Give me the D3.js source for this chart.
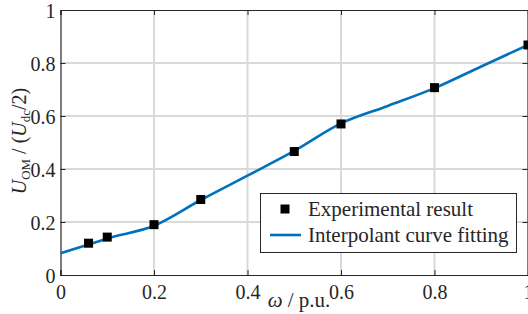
<!DOCTYPE html>
<html>
<head>
<meta charset="utf-8">
<script src="https://cdn.jsdelivr.net/npm/d3@7"></script>
<style>
  body { margin: 0; background: #fff; }
  svg text { font-family: "Liberation Serif", "Times New Roman", serif; fill: #262626; }
</style>
</head>
<body>
<div id="chart"></div>
<script>
// measured points
var expX = [0.06, 0.1, 0.2, 0.3, 0.5, 0.6, 0.8, 1.0];
var expY = [0.12, 0.143, 0.19, 0.285, 0.466, 0.57, 0.707, 0.868];

// interpolant curve
var fitX = [0, 0.06, 0.1, 0.2, 0.3, 0.4, 0.5, 0.6, 0.7, 0.8, 0.9, 1.0];
var fitY = [0.082, 0.115, 0.138, 0.186, 0.283, 0.375, 0.468, 0.572, 0.638, 0.705, 0.787, 0.868];

var xTicks = [0, 0.2, 0.4, 0.6, 0.8, 1];
var yTicks = [0, 0.2, 0.4, 0.6, 0.8, 1];

var width = 528, height = 314;
var plotL = 60.5, plotR = 528, plotT = 10, plotB = 275;
var fs = 20;

var svg = d3.select("#chart").append("svg")
  .attr("width", width)
  .attr("height", height);

var xScale = d3.scaleLinear().domain([0, 1]).range([plotL, plotR]);
var yScale = d3.scaleLinear().domain([0, 1]).range([plotB, plotT]);

// grid
svg.append("g").selectAll("line").data(xTicks.slice(1, -1)).enter()
  .append("line")
  .attr("x1", function(d) { return xScale(d); })
  .attr("x2", function(d) { return xScale(d); })
  .attr("y1", plotT).attr("y2", plotB)
  .attr("stroke", "#d9d9d9").attr("stroke-width", 2);
svg.append("g").selectAll("line").data(yTicks.slice(1, -1)).enter()
  .append("line")
  .attr("y1", function(d) { return yScale(d); })
  .attr("y2", function(d) { return yScale(d); })
  .attr("x1", plotL).attr("x2", plotR)
  .attr("stroke", "#d9d9d9").attr("stroke-width", 2);

var fmt = function(d) { return d === 0 || d === 1 ? d : d3.format(".1f")(d); };

// axes (inward ticks, box)
var xAxis = d3.axisBottom(xScale).tickValues(xTicks).tickSize(-5).tickPadding(9).tickFormat(fmt);
var xTop = d3.axisTop(xScale).tickValues(xTicks).tickSize(-5).tickFormat("");
var yAxis = d3.axisLeft(yScale).tickValues(yTicks).tickSize(-5).tickPadding(5).tickFormat(fmt);
var yRight = d3.axisRight(yScale).tickValues(yTicks).tickSize(-5).tickFormat("");

var gx = svg.append("g").attr("transform", "translate(0," + plotB + ")").call(xAxis);
var gxt = svg.append("g").attr("transform", "translate(0," + plotT + ")").call(xTop);
var gy = svg.append("g").attr("transform", "translate(" + plotL + ",0)").call(yAxis);
var gyr = svg.append("g").attr("transform", "translate(" + (plotR - 0.5) + ",0)").call(yRight);

[gx, gxt, gy, gyr].forEach(function(g) {
  g.selectAll("path").attr("stroke", "#262626").attr("stroke-width", 1.2);
  g.selectAll("line").attr("stroke", "#262626");
  g.selectAll("text").attr("font-size", fs).attr("fill", "#262626")
    .style("font-family", "'Liberation Serif', serif");
});
gx.selectAll("text").attr("dy", "0.75em");
gy.selectAll("text").attr("dy", "0.35em");

// fit line
var line = d3.line()
  .x(function(d) { return xScale(d[0]); })
  .y(function(d) { return yScale(d[1]); })
  .curve(d3.curveMonotoneX);
svg.append("path")
  .datum(d3.zip(fitX, fitY))
  .attr("d", line)
  .attr("fill", "none")
  .attr("stroke", "#0072BD")
  .attr("stroke-width", 2.6);

// experimental points
var sq = 9;
svg.append("g").selectAll("rect").data(d3.zip(expX, expY)).enter()
  .append("rect")
  .attr("x", function(d) { return xScale(d[0]) - sq / 2; })
  .attr("y", function(d) { return yScale(d[1]) - sq / 2; })
  .attr("width", sq).attr("height", sq)
  .attr("fill", "#000");

// axis labels
svg.append("text")
  .attr("x", 299).attr("y", 307)
  .attr("text-anchor", "middle")
  .attr("font-size", 21)
  .html('<tspan font-style="italic">ω</tspan> / p.u.');

svg.append("text")
  .attr("transform", "translate(26,141) rotate(-90)")
  .attr("text-anchor", "middle")
  .attr("font-size", fs)
  .html('<tspan font-style="italic">U</tspan><tspan font-size="13" dy="4">OM</tspan>' +
        '<tspan dy="-4"> / (</tspan><tspan font-style="italic">U</tspan>' +
        '<tspan font-size="13" dy="4">dc</tspan><tspan dy="-4">/2)</tspan>');

// legend
var leg = svg.append("g");
leg.append("rect")
  .attr("x", 260.5).attr("y", 193.5)
  .attr("width", 256).attr("height", 59)
  .attr("fill", "#fff").attr("stroke", "#262626").attr("stroke-width", 1);
leg.append("rect")
  .attr("x", 285 - sq / 2).attr("y", 209 - sq / 2)
  .attr("width", sq).attr("height", sq).attr("fill", "#000");
leg.append("line")
  .attr("x1", 270).attr("x2", 301).attr("y1", 235).attr("y2", 235)
  .attr("stroke", "#0072BD").attr("stroke-width", 2.6);
leg.append("text").attr("x", 308).attr("y", 216).attr("font-size", 21).text("Experimental result");
leg.append("text").attr("x", 308).attr("y", 242).attr("font-size", 21).text("Interpolant curve fitting");
</script>
</body>
</html>
